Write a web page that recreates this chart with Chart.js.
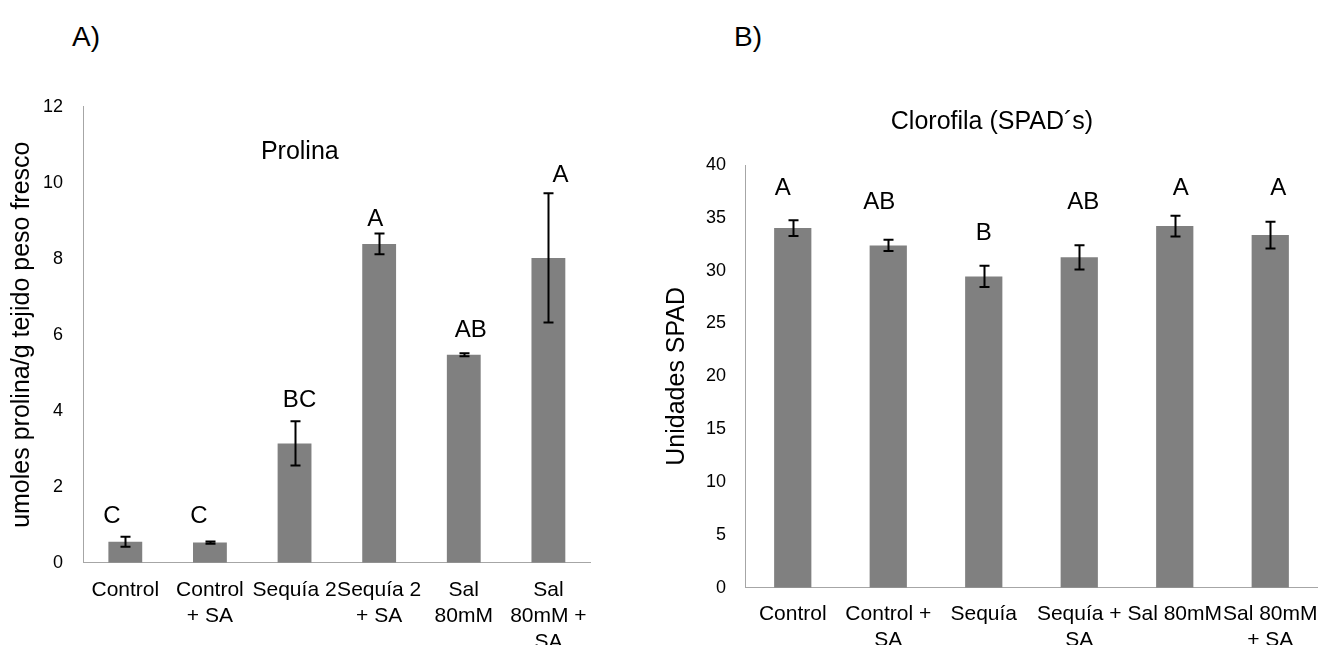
<!DOCTYPE html>
<html><head><meta charset="utf-8">
<script src="https://cdn.jsdelivr.net/npm/chart.js@4.4.1/dist/chart.umd.min.js"></script>
<style>
html,body{margin:0;padding:0;background:#fff;width:1318px;height:645px;overflow:hidden;font-family:"Liberation Sans",Arial,sans-serif}
#wa{position:absolute;left:0;top:0;width:600px;height:645px}
#wb{position:absolute;left:640px;top:0;width:678px;height:645px}
.panel{position:absolute;top:19px;font-size:28px;line-height:36px;color:#000}
</style></head><body>
<div class="panel" style="left:72px">A)</div>
<div class="panel" style="left:734px">B)</div>
<div id="wa"><canvas id="ca" width="600" height="645"></canvas></div>
<div id="wb"><canvas id="cb" width="678" height="645"></canvas></div>
<script>
// ---- Data: panel A (Prolina) ----
const categoriesA = [["Control"], ["Control", "+ SA"], ["Sequía 2"], ["Sequía 2", "+ SA"], ["Sal", "80mM"], ["Sal", "80mM +", "SA"]];
const valuesA = [0.55, 0.53, 3.14, 8.39, 5.47, 8.02];
const errorsA = [0.13, 0.03, 0.58, 0.27, 0.04, 1.70];
const lettersA = ["C", "C", "BC", "A", "AB", "A"];
const yTicksA = [0, 2, 4, 6, 8, 10, 12];
const titleA = "Prolina";
const yTitleA = "umoles prolina/g tejido peso fresco";

// ---- Data: panel B (Clorofila) ----
const categoriesB = [["Control"], ["Control +", "SA"], ["Sequía"], ["Sequía +", "SA"], ["Sal 80mM"], ["Sal 80mM", "+ SA"]];
const valuesB = [34.03, 32.39, 29.46, 31.26, 34.22, 33.37];
const errorsB = [0.74, 0.53, 1.00, 1.15, 0.98, 1.27];
const lettersB = ["A", "AB", "B", "AB", "A", "A"];
const yTicksB = [0, 5, 10, 15, 20, 25, 30, 35, 40];
const titleB = "Clorofila (SPAD´s)";
const yTitleB = "Unidades SPAD";

const FONT = '"Liberation Sans", Arial, sans-serif';

const annot = {
  id: 'annot',
  afterDatasetsDraw(chart, args, o) {
    const {ctx, chartArea} = chart;
    const x = chart.scales.x, y = chart.scales.y;
    const vals = chart.data.datasets[0].data;
    ctx.save();
    ctx.strokeStyle = '#000';
    ctx.lineWidth = 2;
    o.errors.forEach((e, i) => {
      const px = Math.round(x.getPixelForValue(i)) + 0.5;
      const yt = y.getPixelForValue(vals[i] + e);
      const yb = y.getPixelForValue(vals[i] - e);
      ctx.beginPath();
      ctx.moveTo(px, yt); ctx.lineTo(px, yb);
      ctx.moveTo(px - o.cap, yt); ctx.lineTo(px + o.cap, yt);
      ctx.moveTo(px - o.cap, yb); ctx.lineTo(px + o.cap, yb);
      ctx.stroke();
    });
    ctx.fillStyle = '#000';
    ctx.textAlign = 'center';
    ctx.textBaseline = 'middle';
    ctx.font = o.letterSize + 'px ' + FONT;
    o.letters.forEach((t, i) => {
      const p = o.letterPos[i];
      ctx.fillText(t, x.getPixelForValue(i) + p.dx, y.getPixelForValue(p.y));
    });
    ctx.font = o.titleSize + 'px ' + FONT;
    ctx.fillText(o.title, chartArea.left + o.titlePos.fx * chartArea.width, y.getPixelForValue(o.titlePos.y));
    ctx.restore();
  }
};

function makeChart(id, cfg) {
  return new Chart(document.getElementById(id), {
    type: 'bar',
    data: {
      labels: cfg.categories,
      datasets: [{
        data: cfg.values,
        backgroundColor: '#808080',
        borderWidth: 0,
        barPercentage: cfg.barPct,
        categoryPercentage: 1.0
      }]
    },
    options: {
      responsive: false,
      animation: false,
      devicePixelRatio: 1,
      layout: {padding: cfg.padding},
      plugins: {
        legend: {display: false},
        tooltip: {enabled: false},
        annot: {
          errors: cfg.errors, cap: 5,
          letters: cfg.letters, letterPos: cfg.letterPos, letterSize: 24,
          title: cfg.title, titlePos: cfg.titlePos, titleSize: 25
        }
      },
      scales: {
        x: {
          offset: true,
          grid: {display: false, drawTicks: false},
          border: {display: true, color: '#a6a6a6', width: 1},
          ticks: {
            autoSkip: false, maxRotation: 0, minRotation: 0,
            color: '#000', padding: cfg.xPad,
            font: {family: FONT, size: 21, lineHeight: 1.22}
          },
          afterFit(s) { s.height = cfg.xHeight; s.paddingLeft = 0; s.paddingRight = 0; }
        },
        y: {
          min: cfg.yTicks[0], max: cfg.yTicks[cfg.yTicks.length - 1],
          grid: {display: false, drawTicks: false},
          border: {display: true, color: '#a6a6a6', width: 1},
          afterBuildTicks(s) { s.ticks = cfg.yTicks.map(v => ({value: v})); },
          ticks: {color: '#000', padding: cfg.yPad, font: {family: FONT, size: 18}},
          title: {
            display: true, text: cfg.yTitle, color: '#000',
            font: {family: FONT, size: 25, lineHeight: 1.2},
            padding: {top: cfg.yTitlePad, bottom: 0}
          },
          afterFit(s) { s.width = cfg.yWidth; s.paddingTop = 0; s.paddingBottom = 0; }
        }
      }
    },
    plugins: [annot]
  });
}

makeChart('ca', {
  categories: categoriesA, values: valuesA, errors: errorsA, letters: lettersA,
  yTicks: yTicksA, title: titleA, yTitle: yTitleA,
  barPct: 0.40,
  padding: {left: 0, top: 106.7, right: 9.3, bottom: 0},
  xHeight: 82.3, yWidth: 83, xPad: 15, yPad: 20, yTitlePad: 7,
  letterPos: [{dx: -13.5, y: 1.23}, {dx: -11, y: 1.23}, {dx: 5, y: 4.26}, {dx: -4, y: 9.04}, {dx: 7, y: 6.12}, {dx: 12, y: 10.2}],
  titlePos: {fx: 0.427, y: 10.81}
});

makeChart('cb', {
  categories: categoriesB, values: valuesB, errors: errorsB, letters: lettersB,
  yTicks: yTicksB, title: titleB, yTitle: yTitleB,
  barPct: 0.39,
  padding: {left: 0, top: 165, right: 0, bottom: 0},
  xHeight: 57.3, yWidth: 105, xPad: 14, yPad: 19, yTitlePad: 22,
  letterPos: [{dx: -10, y: 37.8}, {dx: -9, y: 36.5}, {dx: 0, y: 33.55}, {dx: 4, y: 36.5}, {dx: 6, y: 37.8}, {dx: 8, y: 37.8}],
  titlePos: {fx: 0.431, y: 44.06}
});
</script>
</body></html>
